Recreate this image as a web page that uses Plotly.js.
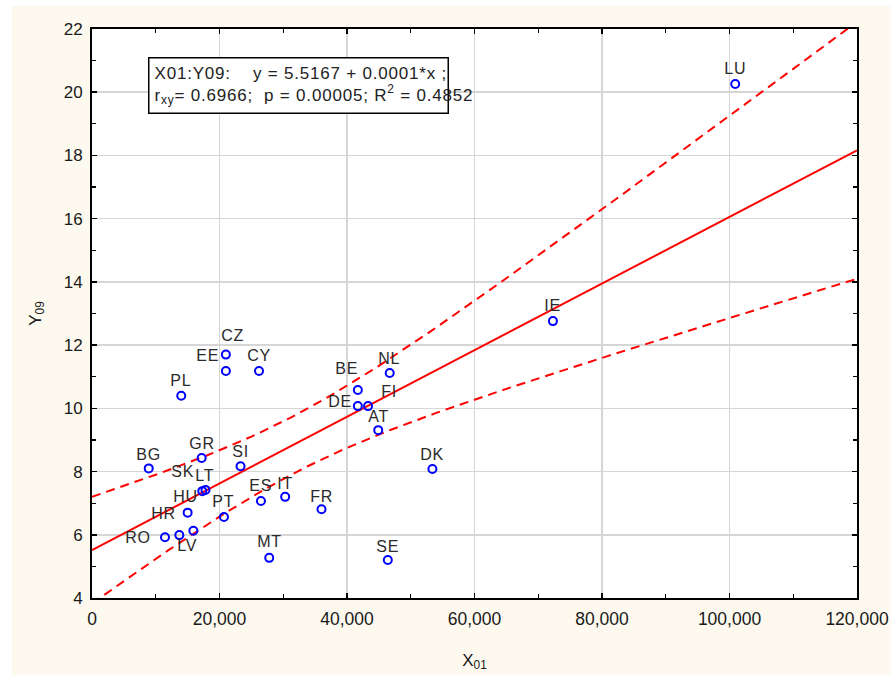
<!DOCTYPE html>
<html>
<head>
<meta charset="utf-8">
<script src="https://cdn.plot.ly/plotly-3.0.1.min.js"></script>
<style>
html,body{margin:0;padding:0;background:#ffffff;}
#chart{position:absolute;left:12px;top:6px;width:879px;height:669px;}
#chart .annotation text{letter-spacing:0.8px;}
</style>
</head>
<body>
<div id="chart"></div>
<script>
// Country codes
const countries = ["LU","IE","NL","BE","DE","FI","AT","DK","FR","SE","IT","ES","MT","PT","SI","GR","BG","SK","LT","HU","HR","RO","LV","CZ","EE","CY","PL"];
// X01 values
const x01 = [100900,72300,46700,41700,41700,43300,44900,53400,36000,46400,30300,26500,27800,20700,23300,17200,8900,17300,17800,15000,13700,11450,15900,21000,21000,26200,14000];
// Y09 values
const y09 = [20.26,12.76,11.12,10.58,10.07,10.07,9.31,8.08,6.81,5.20,7.20,7.07,5.27,6.56,8.17,8.43,8.10,7.38,7.42,6.70,5.99,5.92,6.13,11.70,11.18,11.18,10.40];
// Label offsets (pixels) relative to each point [dx, dy up]
const labelDx = [0,0,0,-11,-18,21,0,0,0,0,0,0,0,0,0,0,0,-19,0,-2,-16,-27,-6,7,-18,0,0];
const labelDy = [16,16,14,22,5,15,14,15,13,14,13,15,16,16,15,14,14,20,14,16,22,0,-15,19,16,16,15];

const eqLine1 = "X01:Y09:\u00A0\u00A0\u00A0\u00A0y\u00A0=\u00A05.5167\u00A0+\u00A00.0001*x\u00A0;";
const eqLine2 = "r<sub>xy</sub>=\u00A00.6966;\u00A0\u00A0p\u00A0=\u00A00.00005;\u00A0R<sup>2</sup>\u00A0=\u00A00.4852";

// OLS fit and 95% confidence band of the mean, computed from the data
const n = x01.length;
const mx = x01.reduce((a,b)=>a+b,0)/n;
const my = y09.reduce((a,b)=>a+b,0)/n;
let sxx=0, sxy=0;
for(let i=0;i<n;i++){ sxx+=(x01[i]-mx)**2; sxy+=(x01[i]-mx)*(y09[i]-my); }
const b1 = sxy/sxx, b0 = my-b1*mx;
let sse=0;
for(let i=0;i<n;i++){ sse+=(y09[i]-(b0+b1*x01[i]))**2; }
const s = Math.sqrt(sse/(n-2));
const tcrit = 2.060; // t(0.975, 25)
const gx=[], gy=[], gu=[], gl=[];
for(let xv=0; xv<=120000; xv+=1000){
  const yh=b0+b1*xv;
  const h=tcrit*s*Math.sqrt(1/n+(xv-mx)**2/sxx);
  gx.push(xv); gy.push(yh); gu.push(yh+h); gl.push(yh-h);
}

const red = "#ff0000";
const traces = [
  {x:gx, y:gu, mode:"lines", line:{color:red, width:2, dash:"9px,6px"}, hoverinfo:"skip"},
  {x:gx, y:gl, mode:"lines", line:{color:red, width:2, dash:"9px,6px"}, hoverinfo:"skip"},
  {x:gx, y:gy, mode:"lines", line:{color:red, width:2}, hoverinfo:"skip"},
  {x:x01, y:y09, text:countries, mode:"markers", type:"scatter",
   marker:{symbol:"circle-open", size:8, color:"#0000ff", line:{width:2, color:"#0000ff"}}}
];

const annotations = countries.map((c,i)=>({
  x:x01[i], y:y09[i], xref:"x", yref:"y", text:c, showarrow:false,
  xanchor:"center", yanchor:"middle", xshift:labelDx[i], yshift:labelDy[i],
  font:{family:"Liberation Sans, Arial, sans-serif", size:16, color:"#2a2a2a"}
}));
annotations.push({
  xref:"paper", yref:"paper", x:0.0732, y:0.951, xanchor:"left", yanchor:"top",
  text:eqLine1+"<br>"+eqLine2, align:"left", showarrow:false,
  bgcolor:"#ffffff", bordercolor:"#000000", borderwidth:1.5, borderpad:5,
  font:{family:"Liberation Sans, Arial, sans-serif", size:17, color:"#222222"}
});

const layout = {
  width:879, height:669,
  margin:{l:80, r:34, t:23, b:77},
  paper_bgcolor:"#fdf9ef", plot_bgcolor:"#ffffff",
  showlegend:false,
  xaxis:{
    range:[0,120000], dtick:20000, tick0:0, tickformat:",d",
    ticks:"inside", ticklen:5, tickwidth:1.5, tickcolor:"#000",
    showline:true, linewidth:2, linecolor:"#000", mirror:"ticks",
    showgrid:true, gridcolor:"#d6d6d6", gridwidth:1.5, zeroline:false,
    minor:{dtick:10000, ticks:"inside", ticklen:4, tickwidth:1.2, tickcolor:"#000", showgrid:false},
    ticklabelstandoff:4,
    tickfont:{family:"Liberation Sans, Arial, sans-serif", size:17.5, color:"#1a1a1a"},
    title:{text:"X<sub>01</sub>", standoff:26, font:{family:"Liberation Sans, Arial, sans-serif", size:17, color:"#1a1a1a"}}
  },
  yaxis:{
    range:[4,22], dtick:2, tick0:4,
    ticks:"inside", ticklen:5, tickwidth:1.5, tickcolor:"#000",
    showline:true, linewidth:2, linecolor:"#000", mirror:"ticks",
    showgrid:true, gridcolor:"#d6d6d6", gridwidth:1.5, zeroline:false,
    minor:{dtick:1, ticks:"inside", ticklen:4, tickwidth:1.2, tickcolor:"#000", showgrid:false},
    ticklabelstandoff:4,
    tickfont:{family:"Liberation Sans, Arial, sans-serif", size:17, color:"#1a1a1a"},
    title:{text:"Y<sub>09</sub>", standoff:18, font:{family:"Liberation Sans, Arial, sans-serif", size:17, color:"#1a1a1a"}}
  },
  annotations:annotations
};

Plotly.newPlot("chart", traces, layout, {displayModeBar:false, staticPlot:true});
</script>
</body>
</html>
